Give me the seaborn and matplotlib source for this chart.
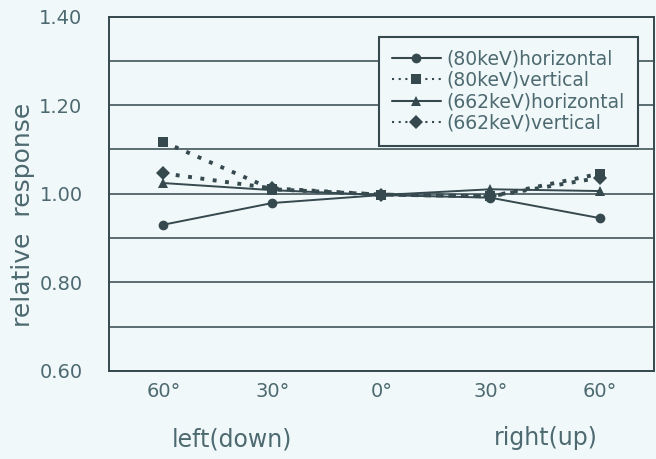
import pandas as pd
import numpy as np
import matplotlib
matplotlib.use("Agg")
import matplotlib.pyplot as plt
import seaborn as sns

# Data
angles = ["60°", "30°", "0°", "30°", "60°"]
h80 = [0.930, 0.979, 0.997, 0.991, 0.945]
v80 = [1.117, 1.010, 0.998, 0.994, 1.045]
h662 = [1.024, 1.008, 0.997, 1.010, 1.006]
v662 = [1.046, 1.012, 0.998, 0.994, 1.036]
series = ["(80keV)horizontal", "(80keV)vertical", "(662keV)horizontal", "(662keV)vertical"]

rows = []
for name, vals in zip(series, [h80, v80, h662, v662]):
    for i, v in enumerate(vals):
        rows.append({"pos": i, "value": v, "series": name})
df = pd.DataFrame(rows)

bg = "#f1f8fa"
ink = "#35494e"
txt = "#4d6a70"

sns.set_style("white")
plt.rcParams["font.family"] = ["DejaVu Sans"]

fig = plt.figure(figsize=(6.56, 4.59), dpi=100, facecolor=bg)
ax = fig.add_axes([0.166, 0.192, 0.831, 0.772], facecolor=bg)

dot = (1.0, 2.2)
ax = sns.lineplot(
    data=df, x="pos", y="value", hue="series", style="series",
    hue_order=series, style_order=series,
    palette=[ink] * 4,
    markers={series[0]: "o", series[1]: "s", series[2]: "^", series[3]: "D"},
    dashes={series[0]: "", series[1]: dot, series[2]: "", series[3]: dot},
    markersize=7, markeredgewidth=0, ax=ax,
)
for line, lw in zip(ax.get_lines(), [1.4, 2.8, 1.4, 2.8]):
    line.set_linewidth(lw)
    line.set_zorder(3)

ax.set_xlim(-0.5, 4.5)
ax.set_ylim(0.6, 1.4)
ax.set_xticks(range(len(angles)))
ax.set_xticklabels(angles)
ax.set_xticks([0.5, 1.5, 2.5, 3.5], minor=True)
ax.set_yticks([0.6, 0.8, 1.0, 1.2, 1.4])
ax.set_yticklabels(["0.60", "0.80", "1.00", "1.20", "1.40"])
ax.set_yticks([0.7, 0.9, 1.1, 1.3], minor=True)
ax.grid(True, axis="y", which="both", color=ink, linewidth=1.1)
ax.tick_params(axis="x", which="major", length=0, pad=8, labelsize=14, labelcolor=txt)
ax.tick_params(axis="x", which="minor", direction="in", length=6, color=ink, width=1)
ax.tick_params(axis="y", which="both", length=0, pad=19, labelsize=14, labelcolor=txt)
for s in ax.spines.values():
    s.set_color(ink)
    s.set_linewidth(1.4)

ax.set_xlabel("")
ax.set_ylabel("relative  response", fontsize=18, color=txt)
ax.yaxis.set_label_coords(-0.135, 0.44)

fig.text(232 / 656, 1 - 440 / 459, "left(down)", fontsize=17, color=txt, ha="center", va="center")
fig.text(546 / 656, 1 - 438 / 459, "right(up)", fontsize=17, color=txt, ha="center", va="center")

leg = ax.legend(
    loc="upper right", bbox_to_anchor=(0.987, 0.97), fontsize=13.5,
    frameon=True, fancybox=False, framealpha=1, facecolor=bg, edgecolor=ink,
    handlelength=2.6, labelspacing=0.12, borderpad=0.7, handletextpad=0.3,
)
leg.get_frame().set_linewidth(1.5)
for t in leg.get_texts():
    t.set_color(txt)

fig.savefig("out.png", dpi=100, facecolor=bg)
